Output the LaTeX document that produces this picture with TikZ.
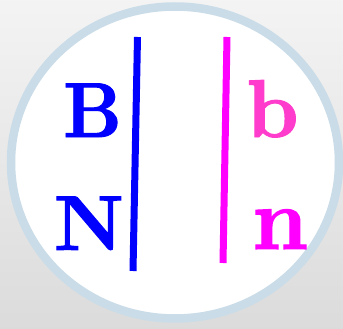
\documentclass[tikz,border=0pt]{standalone}
\usepackage{fontspec}
\usepackage{tikz}
\newfontfamily\heavyfont{lmroman10-bold}[Extension=.otf, FakeBold=1.2]
\definecolor{ringblue}{HTML}{C9DCE8}
\definecolor{upperpink}{HTML}{FF3CCB}
\definecolor{magentaline}{HTML}{FF00FF}

\begin{document}
\begin{tikzpicture}[x=1pt, y=-1pt,
    letter/.style={inner sep=0pt, anchor=base, font=\heavyfont\fontsize{78}{78}\selectfont},
    divider/.style={line width=7pt},
    ring/.style={draw=ringblue, fill=white, line width=8.5pt}
]
    % background
    \shade[top color=gray!9, bottom color=gray!28] (0,0) rectangle (343,329);
    \useasboundingbox (0,0) rectangle (343,329);

    \draw[ring] (175,162.5) ellipse [x radius=164, y radius=156];

    % dividers
    \draw[divider, blue] (137.5,37) -- (133,271);
    \draw[divider, magentaline] (227,37) -- (223,263);

    % letters
    \node[letter, text=blue, xscale=0.92] (bigb) at (92.5,137) {B};
    \node[letter, text=blue] (bign) at (89,250) {N};
    \node[letter, text=upperpink, font=\heavyfont\fontsize{82}{82}\selectfont] (smallb) at (272.5,137) {b};
    \node[letter, text=magentaline, font=\heavyfont\fontsize{88}{88}\selectfont] (smalln) at (280,249) {n};
\end{tikzpicture}
\end{document}
